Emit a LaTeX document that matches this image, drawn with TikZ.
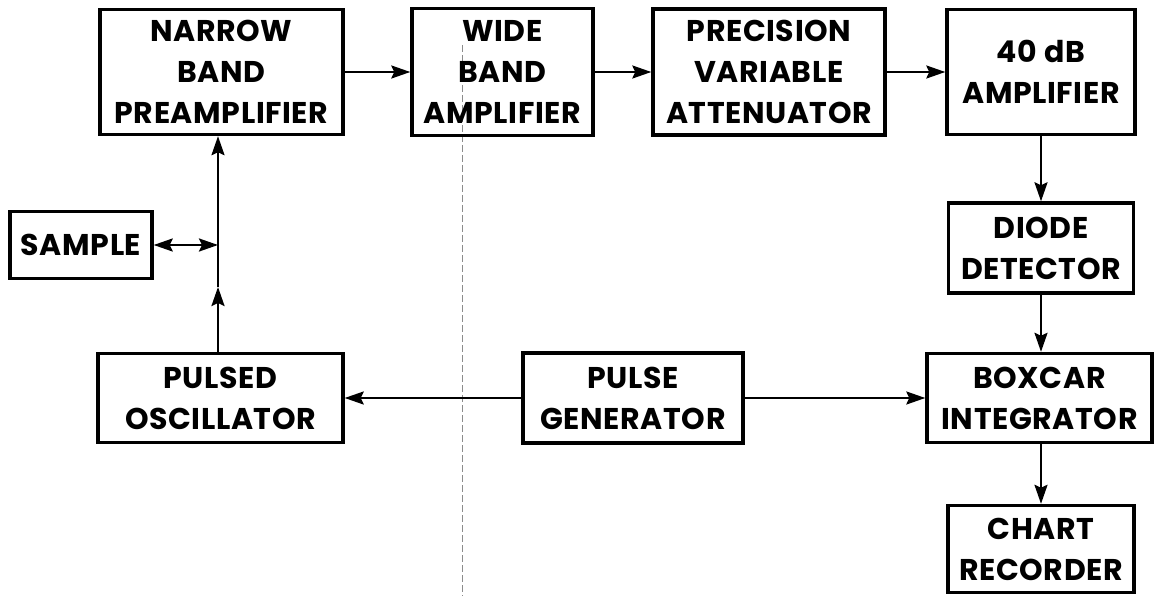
\documentclass[tikz,border=0pt]{standalone}
\usepackage{fontspec}
\setmainfont{Poppins}[LetterSpace=2]
\usetikzlibrary{arrows.meta}
\begin{document}
\begin{tikzpicture}[x=1pt,y=-1pt,
  blk/.style={draw, line width=3.4pt, rectangle, inner sep=0pt, align=center,
    font=\bfseries\fontsize{30}{41}\selectfont},
  conn/.style={line width=2.4pt},
  tip/.tip={Stealth[length=19pt,width=13pt,inset=3pt]},
  arr/.style={conn, -tip},
  dbl/.style={conn, tip-tip},
  scan/.style={black!45, line width=0.8pt, dash pattern=on 7pt off 3pt}]
\useasboundingbox (0,0) rectangle (1154,596);
% faint scan artefact
\draw[scan] (462,45) -- (462,596);
% blocks
\node[blk, minimum width=243pt, minimum height=125pt] (nb) at (221.5,72) {NARROW\\BAND\\PREAMPLIFIER};
\node[blk, minimum width=181pt, minimum height=127pt] (wb) at (502.5,72) {WIDE\\BAND\\AMPLIFIER};
\node[blk, minimum width=232pt, minimum height=126pt] (pva) at (769,72) {PRECISION\\VARIABLE\\ATTENUATOR};
\node[blk, minimum width=188pt, minimum height=125pt] (amp) at (1041,72) {40 dB\\AMPLIFIER};
\node[blk, minimum width=185pt, minimum height=90pt] (dd) at (1041,248) {DIODE\\DETECTOR};
\node[blk, minimum width=142pt, minimum height=67pt] (smp) at (81,245) {SAMPLE};
\node[blk, minimum width=245pt, minimum height=89pt] (po) at (220.5,398) {PULSED\\OSCILLATOR};
\node[blk, minimum width=220pt, minimum height=90pt] (pg) at (633,398) {PULSE\\GENERATOR};
\node[blk, minimum width=225pt, minimum height=89pt] (bi) at (1039.5,398) {BOXCAR\\INTEGRATOR};
\node[blk, minimum width=186pt, minimum height=87pt] (cr) at (1041,549) {CHART\\RECORDER};
% junction
\coordinate (j) at (218,245);
\coordinate (m) at (218,287);
% connectors
\draw[arr] (nb.east) -- (wb.west);
\draw[arr] (wb.east) -- (pva.west);
\draw[arr] (pva.east) -- (amp.west);
\draw[arr] (amp.south) -- (dd.north);
\draw[arr] (dd.south) -- (bi.north -| dd.south);
\draw[arr] (bi.south -| cr.north) -- (cr.north);
\draw[arr] (pg.west) -- (po.east);
\draw[arr] (pg.east) -- (bi.west);
\draw[arr] (j |- po.north) -- (m);
\draw[conn] (m) -- (j);
\draw[arr] (j) -- (j |- nb.south);
\draw[dbl] (smp.east) -- (j);
\end{tikzpicture}
\end{document}
